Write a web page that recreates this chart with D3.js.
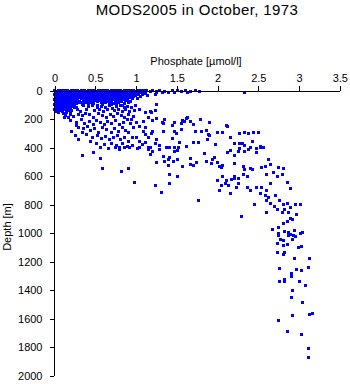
<!DOCTYPE html>
<html><head><meta charset="utf-8">
<script src="https://cdn.jsdelivr.net/npm/d3@7"></script>
<style>
html,body{margin:0;padding:0;background:#fff;}
text{font-family:"Liberation Sans",Arial,Helvetica,sans-serif;fill:#000;}
</style></head>
<body>
<svg id="chart" width="350" height="384"></svg>
<script>
// ---- data: [phosphate (µmol/l), depth (m)] ----
const surfaceBlob = [
[0.01,2],[0.05,4],[0.09,2],[0.13,5],[0.17,3],[0.21,6],[0.25,2],[0.29,4],
[0.02,17],[0.06,19],[0.1,16],[0.14,20],[0.18,17],[0.22,21],[0.26,18],[0.3,20],
[0.01,34],[0.05,36],[0.09,33],[0.13,37],[0.17,35],[0.21,32],[0.25,36],[0.3,34],
[0.02,51],[0.06,53],[0.1,50],[0.14,54],[0.18,52],[0.22,49],[0.26,53],[0.3,51],
[0.01,68],[0.05,70],[0.09,67],[0.13,71],[0.17,69],[0.21,66],[0.25,70],[0.29,68],
[0.02,85],[0.06,87],[0.1,84],[0.14,88],[0.18,86],[0.22,83],[0.26,87],[0.3,85],
[0.01,102],[0.05,104],[0.09,101],[0.13,105],[0.17,103],[0.21,100],[0.25,104],
[0.02,119],[0.06,121],[0.1,118],[0.14,122],[0.18,120],[0.23,117],[0.27,124],
[0.01,136],[0.05,138],[0.09,135],[0.13,139],[0.18,137],[0.22,142],
[0.02,152],[0.06,155],[0.1,151],[0.15,157],[0.2,160],[0.12,168]
];
const surfaceBlobFill = [
[0.03,10],[0.07,11],[0.11,9],[0.15,12],[0.19,10],[0.23,11],[0.27,9],[0.31,12],
[0.03,26],[0.07,27],[0.11,25],[0.15,28],[0.19,26],[0.23,27],[0.28,25],
[0.03,43],[0.07,44],[0.11,42],[0.15,45],[0.19,43],[0.23,44],[0.28,42],[0.32,45],
[0.03,60],[0.08,61],[0.12,59],[0.16,62],[0.2,60],[0.24,61],[0.28,59],
[0.03,77],[0.07,78],[0.11,76],[0.15,79],[0.19,77],[0.23,78],[0.27,76],[0.31,79],
[0.03,94],[0.07,95],[0.11,93],[0.16,96],[0.2,94],[0.24,95],[0.28,93],
[0.03,111],[0.07,112],[0.12,110],[0.16,113],[0.2,111],[0.24,112],
[0.03,128],[0.08,129],[0.12,127],[0.16,130],[0.2,128],
[0.03,145],[0.07,146],[0.11,144],[0.16,147]
];
const surfaceBand = [
[0.34,2],[0.38,3],[0.42,2],[0.46,4],[0.5,2],[0.54,3],[0.58,2],[0.62,4],[0.66,2],[0.7,3],[0.74,2],[0.78,4],[0.82,2],[0.86,3],[0.9,2],[0.94,4],[0.98,2],[1.02,3],[1.06,2],[1.1,4],
[0.36,15],[0.4,16],[0.44,14],[0.48,17],[0.52,15],[0.57,16],[0.61,14],[0.65,17],[0.69,15],[0.73,16],[0.77,14],[0.81,17],[0.85,15],[0.89,16],[0.93,14],[0.97,17],[1.01,15],[1.05,16],
[0.34,30],[0.39,31],[0.43,29],[0.47,32],[0.51,30],[0.55,31],[0.6,29],[0.64,32],[0.68,30],[0.72,31],[0.76,29],[0.8,32],[0.84,30],[0.88,31],[0.92,29],[0.97,32],[1.03,30],[1.08,33],
[0.35,45],[0.39,46],[0.44,44],[0.49,47],[0.53,45],[0.58,46],[0.62,44],[0.66,47],[0.71,45],[0.75,46],[0.79,44],[0.83,47],[0.87,45],[0.93,46],[0.98,44],[1.06,48],
[0.34,60],[0.38,61],[0.42,59],[0.47,62],[0.52,60],[0.56,61],[0.6,59],[0.65,62],[0.69,60],[0.74,61],[0.8,59],[0.85,62],[0.9,60],[0.96,63],[1.02,58],
[0.36,75],[0.4,76],[0.45,74],[0.5,77],[0.55,75],[0.61,76],[0.66,74],[0.7,78],[0.76,75],[0.82,76],[0.88,74],[0.94,78],
[0.34,90],[0.39,91],[0.44,89],[0.49,92],[0.58,90],[0.63,91],[0.68,89],[0.73,93],[0.79,90],[0.86,92],[0.92,89],
[0.35,103],[0.42,105],[0.47,102],[0.53,106],[0.6,103],[0.7,105],[0.77,102],[0.84,106]
];
const surfaceBandFill = [
[0.36,8],[0.4,9],[0.44,8],[0.48,9],[0.52,8],[0.56,9],[0.6,8],[0.64,9],[0.68,8],[0.72,9],[0.76,8],[0.8,9],[0.84,8],[0.88,9],[0.92,8],[0.96,9],[1.0,8],[1.04,9],[1.08,8],
[0.34,22],[0.38,23],[0.42,22],[0.46,23],[0.5,22],[0.55,23],[0.59,22],[0.63,23],[0.67,22],[0.71,23],[0.75,22],[0.79,23],[0.83,22],[0.87,23],[0.91,22],[0.95,23],[0.99,22],[1.04,23],
[0.36,38],[0.41,39],[0.45,38],[0.49,39],[0.53,38],[0.57,39],[0.62,38],[0.66,39],[0.7,38],[0.74,39],[0.78,38],[0.82,39],[0.86,38],[0.9,39],[0.95,38],[1.0,39],
[0.36,52],[0.41,53],[0.46,52],[0.5,53],[0.55,52],[0.6,53],[0.64,52],[0.68,53],[0.73,52],[0.77,53],[0.82,52],[0.88,53],[0.94,52],
[0.38,68],[0.43,69],[0.48,68],[0.53,69],[0.58,68],[0.63,69],[0.68,68],[0.73,69],[0.78,68],[0.84,69],[0.9,68],
[0.37,83],[0.42,84],[0.47,83],[0.53,84],[0.6,83],[0.66,84],[0.71,83],[0.77,84],[0.83,83]
];
const surfaceRow = [
[1.13,5],[1.18,10],[1.21,3],[1.26,12],[1.3,2],[1.33,20],[1.36,8],[1.4,15],[1.45,4],[1.48,18],[1.52,6],[1.57,12],
[1.61,3],[1.64,16],[1.67,9],[1.73,5],[1.79,12],[2.34,16],[1.24,35],[1.26,21],[1.15,40],[1.12,25],[1.26,105],[1.24,147],[1.2,161]
];
const upperScatter = [
[0.36,112],[0.42,118],[0.47,110],[0.53,124],[0.58,115],[0.63,120],[0.68,112],[0.72,128],[0.77,118],[0.81,110],[0.86,124],[0.9,114],[0.95,120],[1.0,112],
[0.4,140],[0.5,145],[0.56,136],[0.61,148],[0.66,140],[0.74,145],[0.79,136],[0.84,150],[0.88,140],[0.93,148],[0.25,120],[0.29,135],[0.33,150],[0.2,175],[0.14,180],
[0.13,190],[0.18,195],[0.24,186],[0.3,170],[0.35,182],[0.39,165],[0.44,172],[0.49,190],[0.54,168],[0.59,180],[0.64,195],[0.69,172],[0.73,186],[0.78,165],[0.83,178],[0.87,192],[0.92,170],[0.97,185],
[0.2,215],[0.27,225],[0.34,210],[0.38,232],[0.43,218],[0.48,240],[0.52,212],[0.57,228],[0.62,245],[0.66,220],[0.71,235],[0.76,212],[0.8,240],[0.85,225],[0.9,210],[0.94,238],[0.28,250],
[0.3,262],[0.36,270],[0.41,258],[0.45,285],[0.5,272],[0.55,295],[0.6,262],[0.65,280],[0.7,300],[0.74,268],[0.79,290],[0.84,262],[0.88,282],[0.92,300],[0.35,300],[0.22,290],
[0.26,320],[0.4,315],[0.47,330],[0.53,318],[0.58,342],[0.63,325],[0.68,350],[0.73,330],[0.78,318],[0.82,345],[0.87,335],[0.91,360],[0.96,330],
[0.45,360],[0.52,372],[0.62,380],[0.7,372],[0.77,390],[0.84,378],[0.9,395],[0.96,388],[0.3,350],[0.57,400],[0.67,410],[0.8,402],
[1.05,136],[0.99,147],[1.12,159],[1.18,154],[1.16,194],[1.1,218],[0.95,206],[1.01,229],[0.97,264],[1.05,253],[1.12,264],[1.1,288],[1.12,311],
[1.16,335],[1.01,335],[1.05,358],[1.08,381],[1.12,370],[1.05,405],[1.16,405],[1.03,414],[1.16,419],[1.18,454],
[0.35,458],[0.48,442],[0.57,480],[0.59,550],[0.83,571],[0.91,550],[0.99,648],[0.75,407],[0.8,419],[0.87,407],[0.93,407]
];
const midScatter = [
[1.26,200],[1.21,214],[1.36,207],[1.33,228],[1.34,235],[1.58,214],[1.63,200],[1.64,193],[1.6,221],[1.57,235],[1.67,221],
[1.48,230],[1.45,250],[1.71,245],[1.8,205],[1.91,225],
[1.21,293],[1.2,304],[1.34,293],[1.48,293],[1.5,304],[1.57,276],[1.73,293],[1.81,293],[1.87,281],[1.89,309],[1.91,316],[2.01,300],[2.07,300],[2.12,246],[2.13,253],
[2.28,302],[2.34,300],[2.38,302],[2.45,300],[2.51,297],[2.31,372],
[1.26,345],[1.24,373],[1.45,337],[1.54,365],[1.62,393],[1.71,365],[1.77,365],[1.88,345],[1.98,379],[2.16,330],[2.22,372],[2.28,372],[2.34,386],[2.41,407],[2.44,358],[2.49,414],[2.53,400],[2.55,407],
[1.18,407],[1.21,435],[1.3,386],[1.3,421],[1.38,407],[1.42,407],[1.48,435],[1.52,428],[1.48,407],[1.53,400],
[1.34,470],[1.4,491],[1.36,505],[1.42,477],[1.46,505],[1.51,491],[1.4,533],[1.26,512],
[1.67,484],[1.75,512],[1.67,526],[1.71,533],[1.58,540],[1.85,449],[1.87,505],[1.93,519],[1.97,477],[1.95,491],[2.01,512],[2.03,540],[2.07,533],[2.06,547],
[2.13,442],[2.16,428],[2.22,463],[2.26,435],[2.28,414],[2.34,435],[2.38,421],[2.41,407],[2.49,442],[2.53,393],[2.57,407],
[2.22,519],[2.32,540],[2.34,561],[2.41,554],[2.44,561],[2.32,596],[2.22,610],[2.18,625],[2.26,618],[2.37,610],[2.55,547],[2.59,540],[2.63,491],[2.65,526],[2.69,582],[2.75,547],[2.8,596],[2.61,596],[2.74,610],
[2.81,554],[2.76,547],[2.9,688],[2.87,646],
[2.01,632],[2.06,667],[2.1,653],[2.12,632],[2.07,610],[2.03,702],[2.14,667],
[2.22,618],[2.26,653],[2.16,723],[2.24,681],[2.37,681],[2.41,702],[2.49,681],
[1.77,772],[1.52,610],[1.42,596],[1.32,716],[1.25,667],[1.42,653],[1.58,540]
];
const deepScatter = [
[2.55,681],[2.53,723],[2.59,737],[2.63,751],[2.61,702],[2.65,653],[2.72,737],[2.71,821],[2.74,842],[2.77,772],[2.81,807],[2.86,793],[2.83,842],[2.9,828],[2.96,800],[3.02,800],
[2.8,863],[2.88,863],[2.98,877],[2.9,905],[2.87,926],[2.92,912],[2.61,863],[2.65,793],[2.61,772],[2.46,807],[2.3,891],
[2.81,935],[2.75,964],[2.68,978],[2.75,1006],[2.76,1018],[2.83,995],[2.88,1002],[2.9,1011],[2.94,1018],[2.96,1025],[2.95,988],[3.02,1006],[3.05,1002],
[2.78,1048],[2.81,1058],[2.86,1081],[2.81,1093],[2.74,1076],[2.88,1018],[2.92,1048],[3.0,1104],[3.04,1095],
[2.74,1139],[2.81,1153],[2.83,1139],[2.95,1181],[3.13,1181],[2.77,1251],[2.97,1258],[3.04,1268],[3.12,1244],
[2.91,1291],[2.91,1310],[2.77,1343],[2.83,1329],[2.83,1345],[3.01,1343],[3.08,1371],[2.93,1404],[2.91,1455],[3.05,1490],
[3.14,1572],[3.17,1567],[2.93,1584],[2.76,1621],[2.87,1693],[3.04,1715],[3.12,1816],[3.12,1876]
];
const phosphateTicks = [0, 0.5, 1, 1.5, 2, 2.5, 3, 3.5];
const phosphateLabels = ["0", "0.5", "1", "1.5", "2", "2.5", "3", "3.5"];
const depthTicks = [0, 200, 400, 600, 800, 1000, 1200, 1400, 1600, 1800, 2000];

// ---- chart ----
const svg = d3.select("#chart");
svg.append("rect").attr("width", 350).attr("height", 384).attr("fill", "#fff");

const x = d3.scaleLinear().domain([0, 3.5]).range([54, 339.3]);
const y = d3.scaleLinear().domain([0, 2000]).range([90, 375]);

const allPoints = [].concat(surfaceBlob, surfaceBlobFill, surfaceBand, surfaceBandFill,
  surfaceRow, upperScatter, midScatter, deepScatter);

svg.append("g").selectAll("rect").data(allPoints).join("rect")
  .attr("x", d => Math.round(x(d[0]) - 1.5))
  .attr("y", d => Math.round(y(d[1]) - 1.5))
  .attr("width", 3).attr("height", 3)
  .attr("fill", "#0000ff")
  .attr("shape-rendering", "crispEdges");

const xAxis = d3.axisTop(x).tickValues(phosphateTicks)
  .tickFormat((d, i) => phosphateLabels[i]).tickSize(5).tickPadding(4).tickSizeOuter(0);
const gx = svg.append("g").attr("transform", "translate(0.5,90.5)").call(xAxis);

const yAxis = d3.axisLeft(y).tickValues(depthTicks).tickFormat(d => String(d))
  .tickSize(4).tickPadding(7).tickSizeOuter(0);
const gy = svg.append("g").attr("transform", "translate(53.5,0.5)").call(yAxis);

[gx, gy].forEach(g => {
  g.selectAll("path,line").attr("stroke", "#000").attr("shape-rendering", "crispEdges");
  g.selectAll("text").attr("font-size", 11).attr("font-family", '"Liberation Sans",Arial,sans-serif');
});

svg.append("text").attr("x", 197).attr("y", 15).attr("text-anchor", "middle")
  .attr("font-size", 15).attr("letter-spacing", 0.4).text("MODS2005 in October, 1973");

svg.append("text").attr("x", 196).attr("y", 65).attr("text-anchor", "middle")
  .attr("font-size", 11).text("Phosphate [µmol/l]");

svg.append("text").attr("transform", "translate(11,227) rotate(-90)").attr("text-anchor", "middle")
  .attr("font-size", 11).text("Depth [m]");
</script>
</body></html>
